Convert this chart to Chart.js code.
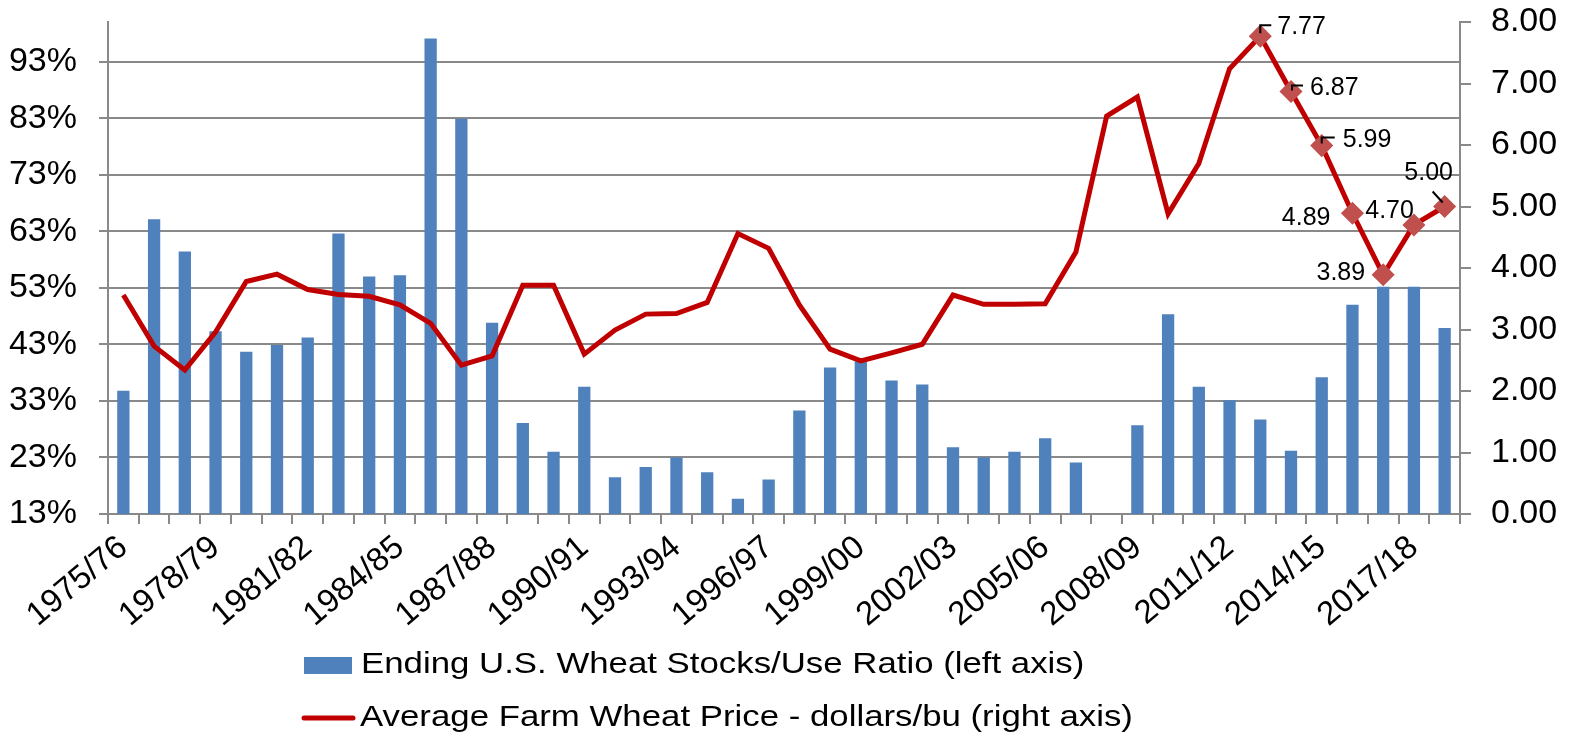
<!DOCTYPE html>
<html>
<head>
<meta charset="utf-8">
<title>U.S. wheat stocks/use ratio and farm price</title>
<script src="https://cdn.jsdelivr.net/npm/chart.js@4.4.1/dist/chart.umd.min.js"></script>
<style>
  html, body { margin: 0; padding: 0; background: #fff; }
  #wrap { width: 1575px; height: 738px; position: relative; }
</style>
</head>
<body>
<div id="wrap"><canvas id="wheatChart"></canvas></div>
<script>
// marketing years
var seasons = ['1975/76','1976/77','1977/78','1978/79','1979/80','1980/81','1981/82','1982/83',
    '1983/84','1984/85','1985/86','1986/87','1987/88','1988/89','1989/90','1990/91','1991/92',
    '1992/93','1993/94','1994/95','1995/96','1996/97','1997/98','1998/99','1999/00','2000/01',
    '2001/02','2002/03','2003/04','2004/05','2005/06','2006/07','2007/08','2008/09','2009/10',
    '2010/11','2011/12','2012/13','2013/14','2014/15','2015/16','2016/17','2017/18','2018/19'];

// ending stocks / use, percent (left axis)
var stocksUse = [34.8, 65.1, 59.4, 45.3, 41.7, 42.9, 44.2, 62.6, 55.0, 55.2,
    97.1, 82.9, 46.8, 29.1, 24.0, 35.5, 19.5, 21.3, 23.0, 20.4,
    15.7, 19.1, 31.3, 38.9, 40.0, 36.6, 35.9, 24.8, 23.0, 24.0,
    26.4, 22.1, 13.0, 28.7, 48.3, 35.5, 33.1, 29.7, 24.2, 37.2,
    50.0, 53.2, 53.2, 45.9];

// average farm price, dollars/bu (right axis)
var farmPrice = [3.56, 2.73, 2.34, 2.96, 3.78, 3.90, 3.65, 3.57, 3.54, 3.40,
    3.10, 2.42, 2.57, 3.72, 3.72, 2.60, 2.99, 3.25, 3.26, 3.44,
    4.56, 4.32, 3.40, 2.68, 2.49, 2.62, 2.76, 3.56, 3.41, 3.41,
    3.42, 4.26, 6.47, 6.78, 4.88, 5.70, 7.24, 7.77, 6.87, 5.99,
    4.89, 3.89, 4.70, 5.00];

var leftTicks = [13, 23, 33, 43, 53, 63, 73, 83, 93];
var rightTicks = [0, 1, 2, 3, 4, 5, 6, 7, 8];

// first year that gets a marker + value label
var firstMarked = 37;

var FONT = '"Liberation Sans", Arial, sans-serif';
var GRAY = '#898989';

// where each value label sits next to its point (dx, dy, align, leader line)
var labelPlace = {
    37: { dx: 17, dy: -9, align: 'left', leader: [[0, -3], [0, -11], [11, -11]] },
    38: { dx: 19, dy: -3, align: 'left', leader: [[1, -1], [1, -6], [12, -6]] },
    39: { dx: 21, dy: -6, align: 'left', leader: [[0, -2], [0, -8], [13, -8]] },
    40: { dx: -22, dy: 5, align: 'right' },
    41: { dx: -18, dy: -2, align: 'right' },
    42: { dx: 0, dy: -14, align: 'right' },
    43: { dx: -16, dy: -33, align: 'center', leader: [[-12, -15], [-2, -4]] }
};

var valueLabels = {
    id: 'valueLabels',
    afterDatasetsDraw: function(chart) {
        var ctx = chart.ctx;
        var meta = chart.getDatasetMeta(1);
        ctx.save();
        ctx.font = '25px ' + FONT;
        ctx.fillStyle = '#000';
        ctx.strokeStyle = '#000';
        ctx.lineWidth = 2;
        ctx.textBaseline = 'middle';
        meta.data.forEach(function(pt, i) {
            var p = labelPlace[i];
            if (!p) return;
            if (p.leader) {
                ctx.beginPath();
                p.leader.forEach(function(q, k) {
                    if (k === 0) ctx.moveTo(pt.x + q[0], pt.y + q[1]);
                    else ctx.lineTo(pt.x + q[0], pt.y + q[1]);
                });
                ctx.stroke();
            }
            ctx.textAlign = p.align;
            ctx.fillText(farmPrice[i].toFixed(2), pt.x + p.dx, pt.y + p.dy);
        });
        ctx.restore();
    }
};

// legend drawn by hand: two rows, left aligned
var bottomLegend = {
    id: 'bottomLegend',
    afterDraw: function(chart) {
        var ctx = chart.ctx;
        var ds = chart.data.datasets;
        ctx.save();
        // bar swatch
        ctx.fillStyle = ds[0].backgroundColor;
        ctx.fillRect(304, 657, 48, 17);
        // line swatch
        ctx.strokeStyle = ds[1].borderColor;
        ctx.lineWidth = 5;
        ctx.lineCap = 'round';
        ctx.beginPath();
        ctx.moveTo(304, 718);
        ctx.lineTo(353, 718);
        ctx.stroke();

        ctx.fillStyle = '#000';
        ctx.font = '30px ' + FONT;
        ctx.textBaseline = 'middle';
        ctx.textAlign = 'left';
        [[361, 665, ds[0].label], [360, 718, ds[1].label]].forEach(function(r) {
            ctx.save();
            ctx.translate(r[0], r[1]);
            ctx.scale(1.16, 1);
            ctx.fillText(r[2], 0, 0);
            ctx.restore();
        });
        ctx.restore();
    }
};

// y axes: fixed width and no extra padding above the plot
function fixYAxis(width) {
    return function(s) {
        s.width = width;
        s.paddingTop = 0;
        s.paddingBottom = 0;
    };
}

new Chart(document.getElementById('wheatChart'), {
    type: 'bar',
    data: {
        labels: seasons,
        datasets: [{
            type: 'bar',
            label: 'Ending U.S. Wheat Stocks/Use Ratio (left axis)',
            data: stocksUse,
            yAxisID: 'yLeft',
            backgroundColor: '#4F81BD',
            categoryPercentage: 1,
            barPercentage: 0.4,
            order: 2
        }, {
            type: 'line',
            label: 'Average Farm Wheat Price - dollars/bu (right axis)',
            data: farmPrice,
            yAxisID: 'yRight',
            borderColor: '#C00000',
            borderWidth: 5,
            tension: 0,
            pointStyle: 'rectRot',
            pointRadius: farmPrice.map(function(v, i) { return i >= firstMarked ? 8 : 0; }),
            pointBackgroundColor: '#C0504D',
            pointBorderColor: '#C0504D',
            order: 1
        }]
    },
    options: {
        responsive: true,
        maintainAspectRatio: false,
        animation: false,
        devicePixelRatio: 1,
        layout: { padding: { top: 22, left: 0, right: 0, bottom: 0 } },
        plugins: {
            legend: { display: false },
            tooltip: { enabled: false }
        },
        scales: {
            x: {
                offset: true,
                grid: { offset: true, drawOnChartArea: false, drawTicks: true, tickLength: 10, color: GRAY, lineWidth: 2 },
                border: { display: true, color: GRAY, width: 2 },
                ticks: {
                    autoSkip: false,
                    minRotation: 40,
                    maxRotation: 40,
                    padding: 4,
                    color: '#000',
                    font: { family: FONT, size: 33 },
                    callback: function(v, i) { return i % 3 === 0 ? seasons[i] : ''; }
                },
                afterFit: function(s) { s.height = 224; }
            },
            yLeft: {
                position: 'left',
                min: 13,
                max: 100,
                afterBuildTicks: function(s) {
                    s.ticks = leftTicks.map(function(v) { return { value: v }; });
                },
                grid: { color: GRAY, lineWidth: 2, tickLength: 9 },
                border: { display: true, color: GRAY, width: 2 },
                ticks: {
                    color: '#000',
                    padding: 22,
                    font: { family: FONT, size: 34 },
                    callback: function(v) { return v + '%'; }
                },
                afterFit: fixYAxis(108)
            },
            yRight: {
                position: 'right',
                min: 0,
                max: 8,
                afterBuildTicks: function(s) {
                    s.ticks = rightTicks.map(function(v) { return { value: v }; });
                },
                grid: { drawOnChartArea: false, color: GRAY, lineWidth: 2, tickLength: 11 },
                border: { display: true, color: GRAY, width: 2 },
                ticks: {
                    color: '#000',
                    padding: 20,
                    font: { family: FONT, size: 34 },
                    callback: function(v) { return v.toFixed(2); }
                },
                afterFit: fixYAxis(115)
            }
        }
    },
    plugins: [valueLabels, bottomLegend]
});
</script>
</body>
</html>
